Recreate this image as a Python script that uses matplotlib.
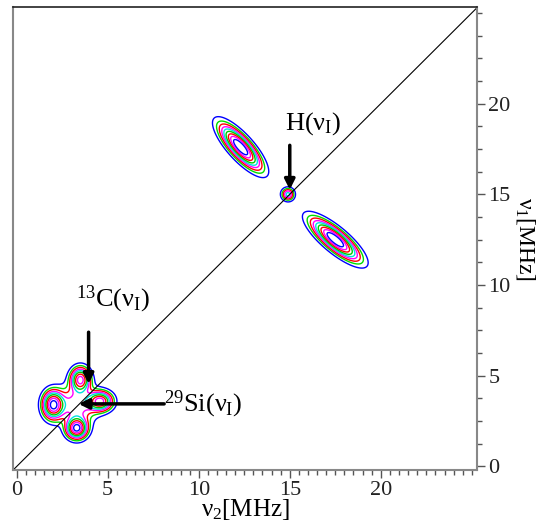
import numpy as np
import matplotlib
matplotlib.use("Agg")
import matplotlib.pyplot as plt
from matplotlib.ticker import MultipleLocator

plt.rcParams['font.family'] = ['Liberation Serif', 'DejaVu Serif']
plt.rcParams['mathtext.fontset'] = 'custom'
plt.rcParams['mathtext.rm'] = 'Liberation Serif'
plt.rcParams['mathtext.it'] = 'Liberation Serif'
plt.rcParams['mathtext.bf'] = 'Liberation Serif'

# ---- data: peak parameters (MHz) ----
peak_x      = [12.3, 17.5, 14.9, 2.0, 3.5, 3.3, 4.6, 3.3]
peak_y      = [17.6, 12.5, 15.0, 3.4, 4.8, 2.1, 3.6, 3.4]
peak_amp    = [0.8, 0.8, 0.35, 0.7, 0.6, 0.7, 0.6, 0.3]
peak_sig_l  = [0.95, 1.0, 0.22, 0.48, 0.42, 0.36, 0.42, 0.7]
peak_sig_s  = [0.32, 0.32, 0.22, 0.36, 0.34, 0.36, 0.34, 0.7]
peak_angle  = [-48, -40, 0, 90, 90, 0, 0, 0]

levels = [0.06, 0.12, 0.18, 0.25, 0.32, 0.40, 0.49, 0.58, 0.68]
level_colors = ['#0000ff', '#00dd00', '#ff0000', '#ff00ff', '#00e0e0',
                '#00cc00', '#ff0000', '#ff00ff', '#0000ff']

xticks = [0, 5, 10, 15, 20]
yticks = [0, 5, 10, 15, 20]
lim = (-0.2, 25.3)

annot_labels = [r'H($\nu_{\rm I}$)', r'$^{13}$C($\nu_{\rm I}$)', r'$^{29}$Si($\nu_{\rm I}$)']
annot_tip = [(15.0, 15.25), (3.95, 4.55), (3.4, 3.45)]
annot_start = [(15.0, 17.7), (3.95, 7.4), (8.1, 3.45)]
annot_text = [(16.3, 18.9), (5.3, 9.2), (8.1, 3.45)]
annot_ha = ['center', 'center', 'left']

# ---- intensity map ----
gx = np.linspace(0, 25.3, 700)
gy = np.linspace(0, 25.3, 700)
X, Y = np.meshgrid(gx, gy)
Z = np.zeros_like(X)
for cx, cy, a, sl, ss, ang in zip(peak_x, peak_y, peak_amp, peak_sig_l, peak_sig_s, peak_angle):
    t = np.deg2rad(ang)
    dx, dy = X - cx, Y - cy
    u = dx * np.cos(t) + dy * np.sin(t)
    v = -dx * np.sin(t) + dy * np.cos(t)
    Z += a * np.exp(-0.5 * ((u / sl) ** 2 + (v / ss) ** 2))

fig = plt.figure(figsize=(5.43, 5.30), dpi=100)
ax = fig.add_axes([0.024, 0.113, 0.855, 0.873])

ax.contour(X, Y, Z, levels=levels, colors=level_colors, linewidths=1.0)
ax.plot(lim, lim, color='black', lw=0.8)

ax.set_xlim(lim)
ax.set_ylim(lim)

ax.yaxis.tick_right()
ax.yaxis.set_label_position('right')
ax.set_xticks(xticks)
ax.set_yticks(yticks)
ax.xaxis.set_minor_locator(MultipleLocator(0.5))
ax.yaxis.set_minor_locator(MultipleLocator(1.25))
ax.tick_params(axis='both', which='major', direction='out', length=6, width=1,
               color='#555555', labelsize=16, labelcolor='#222222', pad=2)
ax.tick_params(axis='both', which='minor', direction='out', length=3.5, width=1,
               color='#555555')

for side in ['left', 'right', 'bottom']:
    ax.spines[side].set_color('#888888')
    ax.spines[side].set_linewidth(1.5)
ax.spines['top'].set_color('#222222')
ax.spines['top'].set_linewidth(1.2)

ax.set_xlabel(r'$\nu_2$[MHz]', fontsize=18, labelpad=-2)
ax.set_ylabel(r'$\nu_1$[MHz]', fontsize=17, rotation=270, labelpad=19)

for lab, tip, st, txt, ha in zip(annot_labels, annot_tip, annot_start, annot_text, annot_ha):
    ax.annotate('', xy=tip, xytext=st,
                arrowprops=dict(arrowstyle='-|>,head_length=0.6,head_width=0.3',
                                color='black', lw=2.5, shrinkA=0, shrinkB=0))
    ax.text(txt[0], txt[1], lab, fontsize=19, ha=ha, va='center')

fig.savefig('out.png', dpi=100)
